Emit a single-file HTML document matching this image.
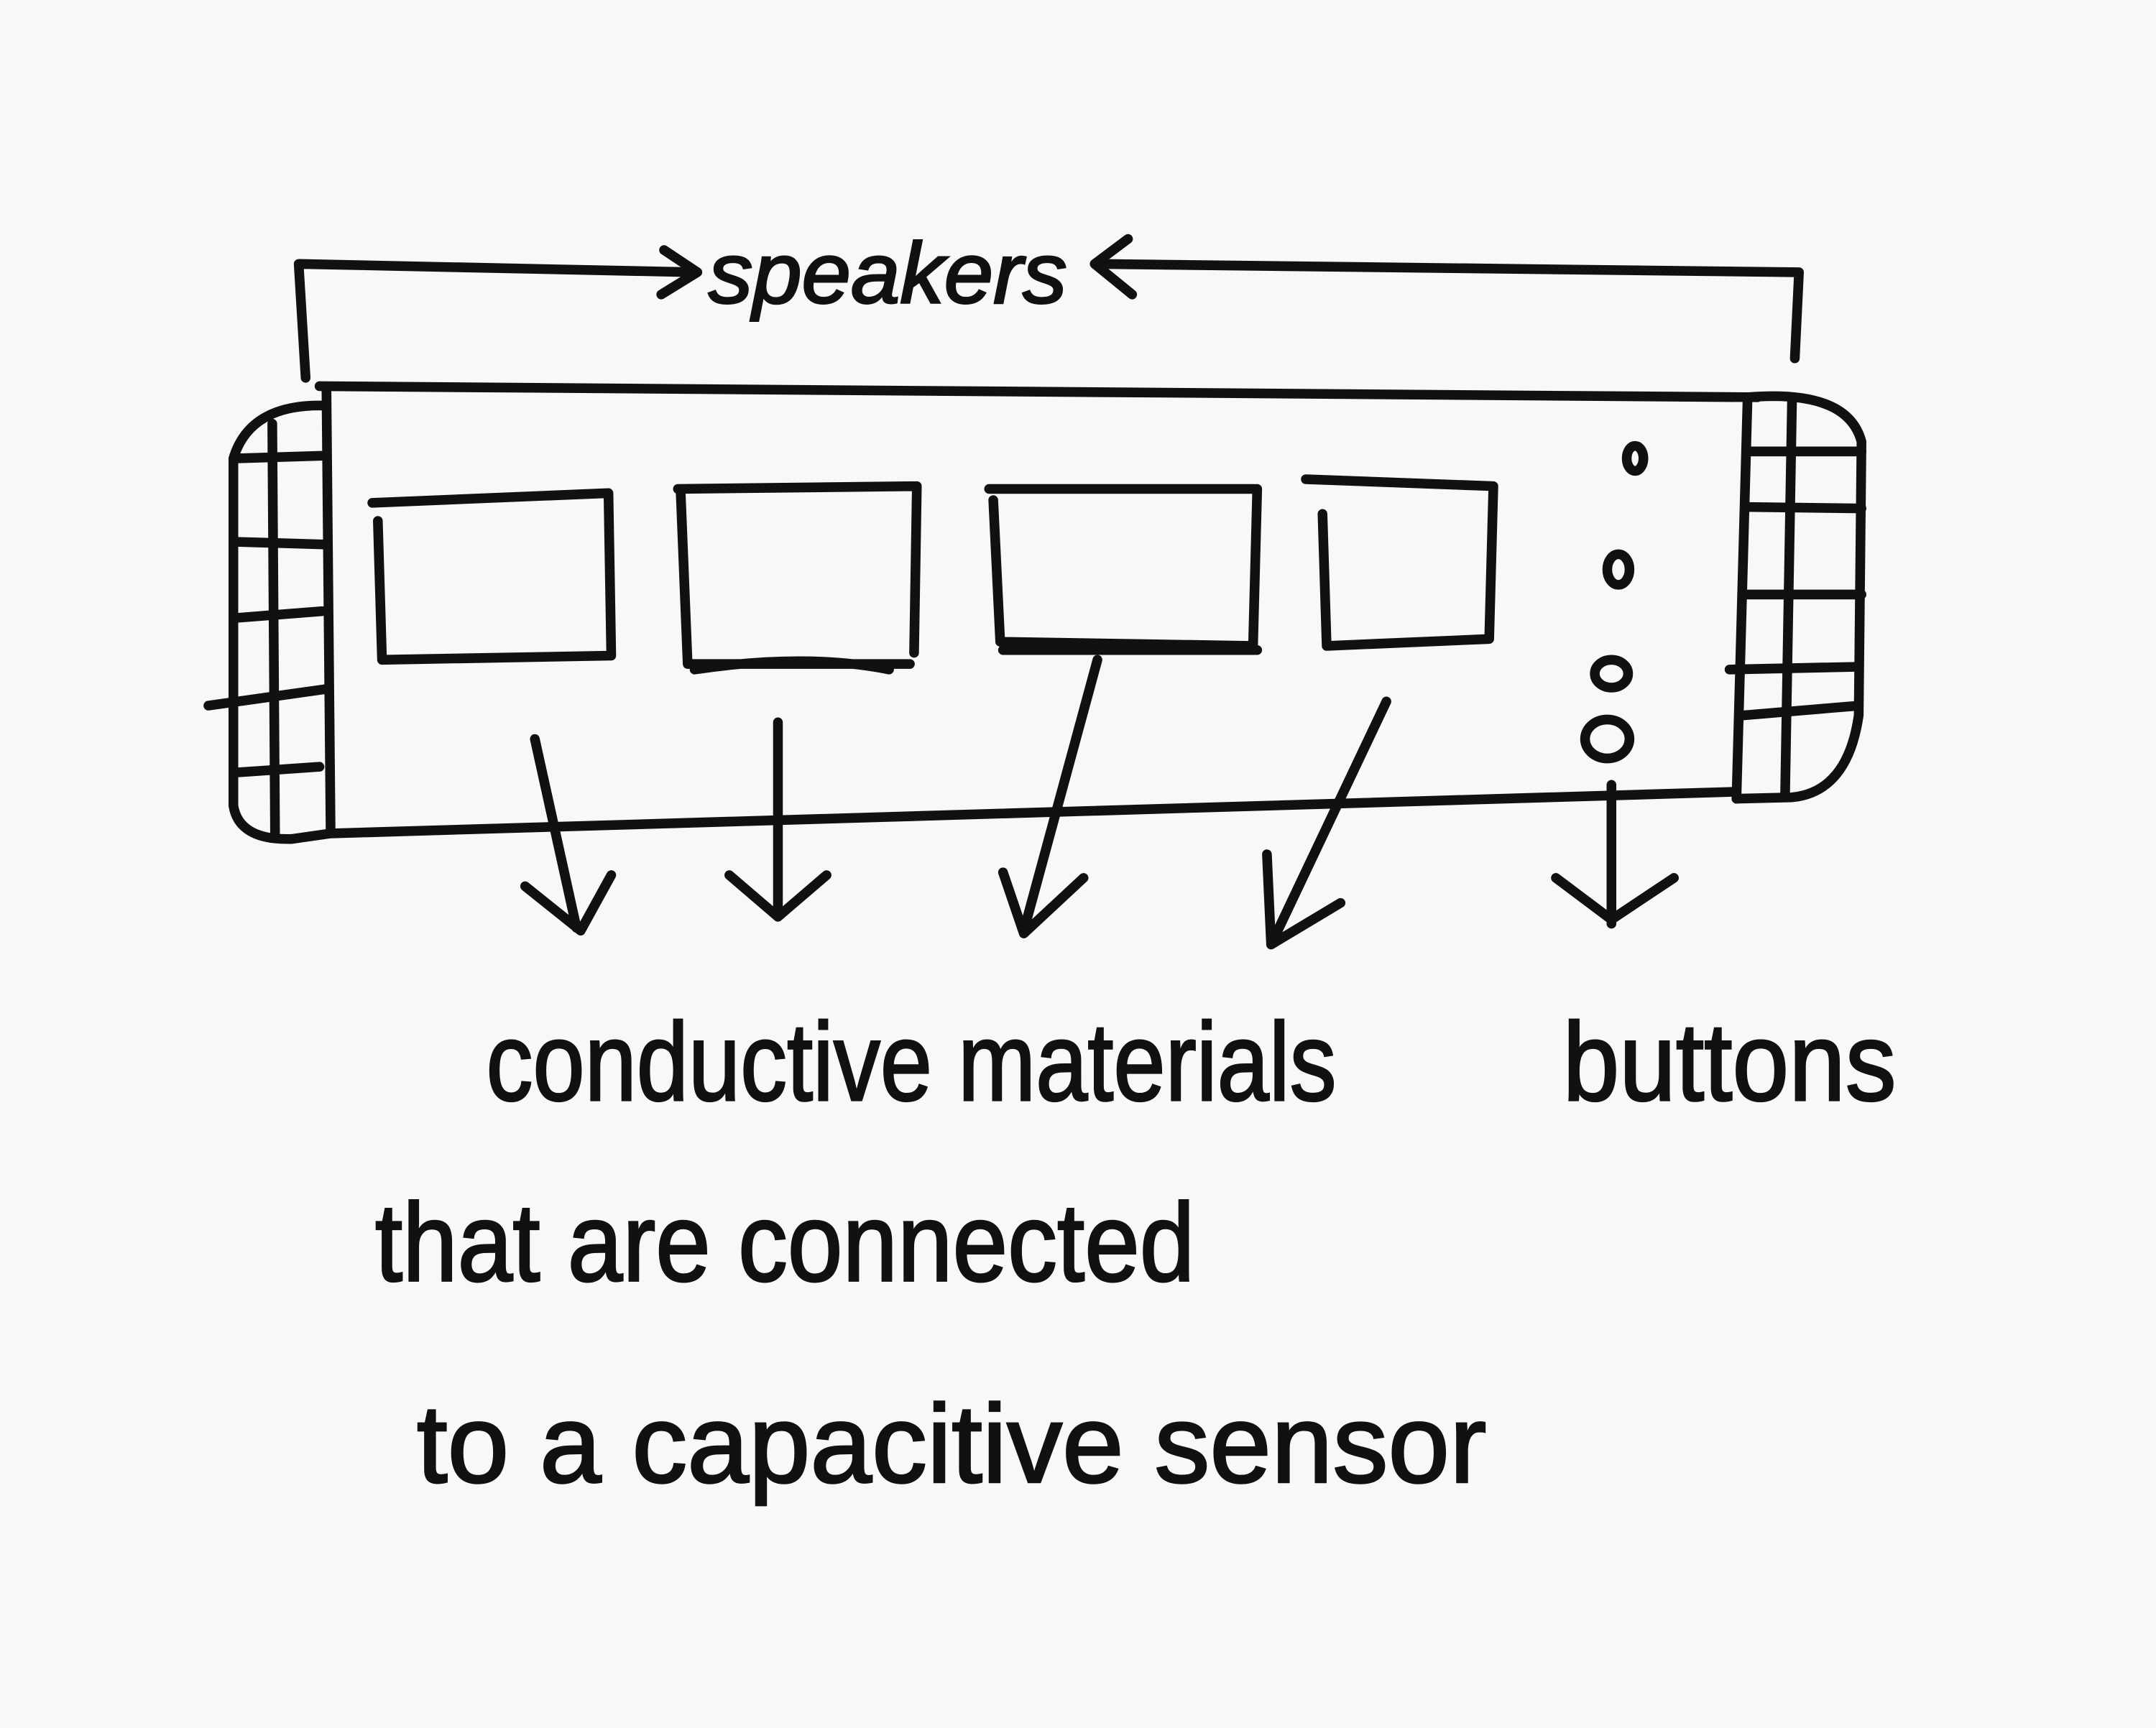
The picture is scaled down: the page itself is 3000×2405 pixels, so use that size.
<!DOCTYPE html>
<html><head><style>
html,body{margin:0;padding:0;background:#f7f7f6;}
svg{display:block}
text{font-family:"Liberation Sans",sans-serif;fill:#111;stroke:#111;stroke-width:1.5;}
</style></head><body>
<svg width="3000" height="2405" viewBox="0 0 1552 1244" preserveAspectRatio="none" xmlns="http://www.w3.org/2000/svg">
<rect width="1552" height="1244" fill="#f8f8f7"/>
<g fill="none" stroke="#111" stroke-width="7" stroke-linecap="round" stroke-linejoin="round">
<!-- bracket -->
<path d="M220 272 L215 190 L500 196"/>
<path d="M478 180 L502 196 L476 212"/>
<path d="M1292 258 L1295 196 L790 190"/>
<path d="M812 172 L788 190 L815 212"/>
<!-- main body -->
<path d="M230 278 L1265 286"/>
<path d="M235 280 L238 600 L1250 570"/>
<path d="M1258 286 L1250 575"/>
<!-- left grille -->
<path d="M235 292 Q180 290 168 330 L168 580 Q172 605 210 604 L238 600"/>
<path d="M196 305 L198 600"/>
<path d="M170 330 L235 328 M168 390 L235 392 M168 445 L232 440 M150 508 L235 496 M172 556 L230 552"/>
<!-- right grille -->
<path d="M1258 286 Q1330 280 1340 318 L1338 515 Q1330 570 1290 574 L1250 575"/>
<path d="M1290 288 L1285 572"/>
<path d="M1258 325 L1340 325 M1258 365 L1340 366 M1258 428 L1340 428 M1245 482 L1338 480 M1255 515 L1338 508"/>
<!-- boxes -->
<path d="M272 375 L275 475 L440 472 L438 355 L268 362"/>
<path d="M490 355 L495 478 L655 478 M500 482 Q580 470 640 482 M488 352 L660 350 L658 470"/>
<path d="M712 352 L905 352 L902 465 L720 462 L715 360 M722 468 L905 468"/>
<path d="M940 345 L1075 350 L1072 460 L955 465 L952 370"/>
<!-- buttons -->
<ellipse cx="1177" cy="330" rx="6" ry="9"/>
<ellipse cx="1165" cy="410" rx="8" ry="11"/>
<ellipse cx="1160" cy="485" rx="12" ry="10"/>
<ellipse cx="1157" cy="532" rx="16" ry="14"/>
<!-- arrows -->
<path d="M385 532 L415 668 M378 638 L418 670 L440 630"/>
<path d="M560 520 L560 660 M525 630 L560 660 L595 630"/>
<path d="M790 475 L737 670 M722 628 L737 672 L780 632"/>
<path d="M998 505 L915 680 M912 615 L915 680 L965 650"/>
<path d="M1160 565 L1160 665 M1120 632 L1160 662 L1205 632"/>
</g>
<text x="510" y="218" font-size="62" font-style="italic" textLength="258" lengthAdjust="spacingAndGlyphs">speakers</text>
<text x="350" y="792" font-size="80" textLength="612" lengthAdjust="spacingAndGlyphs">conductive materials</text>
<text x="1125" y="792" font-size="80" textLength="240" lengthAdjust="spacingAndGlyphs">buttons</text>
<text x="270" y="922" font-size="80" textLength="590" lengthAdjust="spacingAndGlyphs">that are connected</text>
<text x="300" y="1067" font-size="80" textLength="770" lengthAdjust="spacingAndGlyphs">to a capacitive sensor</text>
</svg>
</body></html>
